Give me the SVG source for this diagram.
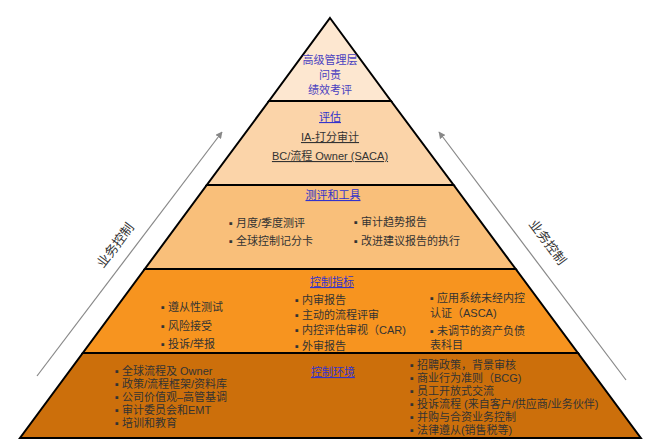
<svg xmlns="http://www.w3.org/2000/svg" width="664" height="445" viewBox="0 0 664 445">
<defs>
<marker id="ah" viewBox="0 0 10 10" refX="9" refY="5" markerWidth="7" markerHeight="7" orient="auto" markerUnits="userSpaceOnUse">
<path d="M0,0 L10,5 L0,10 z" fill="#888"/>
</marker>
<style>
.tier{stroke:#000;stroke-width:2;stroke-linejoin:miter}
.t{font-family:"Liberation Sans","Noto Sans CJK SC",sans-serif;font-size:11px;fill:#333}
.h{font-family:"Liberation Sans","Noto Sans CJK SC",sans-serif;font-size:11px;fill:#3333cc;text-decoration:underline}
.b{font-family:"Liberation Sans","Noto Sans CJK SC",sans-serif;font-size:11px;fill:#4a3fc0}
.u{text-decoration:underline}
.side{font-family:"Liberation Sans","Noto Sans CJK SC",sans-serif;font-size:13px;fill:#333}
.arr{stroke:#888;stroke-width:1.2;fill:none}
</style>
</defs>
<rect width="664" height="445" fill="#fff"/>
<g id="connectors">
<line class="arr" x1="37" y1="376" x2="222" y2="132" marker-end="url(#ah)"/>
<line class="arr" x1="626" y1="380" x2="439" y2="132" marker-end="url(#ah)"/>
</g>
<g id="label-left">
<text class="side" x="115" y="250" text-anchor="middle" transform="rotate(-53 115 245)">业务控制</text>
</g>
<g id="label-right">
<text class="side" x="548" y="247" text-anchor="middle" transform="rotate(53 548 242)">业务控制</text>
</g>
<g id="tier1">
<polygon class="tier" points="330,18 391,101 269,101" fill="#FDE7D0"/>
<text class="b" x="330" y="64" text-anchor="middle">高级管理层</text>
<text class="b" x="330" y="79" text-anchor="middle">问责</text>
<text class="b" x="330" y="94" text-anchor="middle">绩效考评</text>
</g>
<g id="tier2">
<polygon class="tier" points="269,101 391,101 453.6,185 206.8,185" fill="#FBD4A9"/>
<text class="h" x="330" y="121" text-anchor="middle">评估</text>
<text class="t u" x="330" y="141" text-anchor="middle">IA-打分审计</text>
<text class="t u" x="330" y="160" text-anchor="middle">BC/流程 Owner (SACA)</text>
</g>
<g id="tier3">
<polygon class="tier" points="206.8,185 453.6,185 515.7,269 144.8,269" fill="#F9BF7A"/>
<text class="h" x="333" y="199" text-anchor="middle">测评和工具</text>
<text class="t" x="229" y="227">▪ 月度/季度测评</text>
<text class="t" x="229" y="245">▪ 全球控制记分卡</text>
<text class="t" x="354" y="226">▪ 审计趋势报告</text>
<text class="t" x="354" y="245">▪ 改进建议报告的执行</text>
</g>
<g id="tier4">
<polygon class="tier" points="144.8,269 515.7,269 577.9,353 82.8,353" fill="#F7941F"/>
<text class="h" x="332" y="286" text-anchor="middle">控制指标</text>
<text class="t" x="161" y="311">▪ 遵从性测试</text>
<text class="t" x="161" y="330">▪ 风险接受</text>
<text class="t" x="161" y="348">▪ 投诉/举报</text>
<text class="t" x="295" y="304">▪ 内审报告</text>
<text class="t" x="295" y="319">▪ 主动的流程评审</text>
<text class="t" x="295" y="334">▪ 内控评估审视（CAR)</text>
<text class="t" x="295" y="350">▪ 外审报告</text>
<text class="t" x="430" y="302">▪ 应用系统未经内控</text>
<text class="t" x="430" y="317">认证（ASCA)</text>
<text class="t" x="430" y="335">▪ 未调节的资产负债</text>
<text class="t" x="430" y="349">表科目</text>
</g>
<g id="tier5">
<polygon class="tier" points="82.8,353 577.9,353 640.8,438 20,438" fill="#CC6F0B"/>
<text class="h" x="333" y="376" text-anchor="middle">控制环境</text>
<text class="t" x="115" y="375">▪ 全球流程及 Owner</text>
<text class="t" x="115" y="388">▪ 政策/流程框架/资料库</text>
<text class="t" x="115" y="401">▪ 公司价值观–高管基调</text>
<text class="t" x="115" y="414">▪ 审计委员会和EMT</text>
<text class="t" x="115" y="427">▪ 培训和教育</text>
<text class="t" x="410" y="369">▪ 招聘政策，背景审核</text>
<text class="t" x="410" y="382">▪ 商业行为准则（BCG)</text>
<text class="t" x="410" y="395">▪ 员工开放式交流</text>
<text class="t" x="410" y="408">▪ 投诉流程 (来自客户/供应商/业务伙伴)</text>
<text class="t" x="410" y="421">▪ 并购与合资业务控制</text>
<text class="t" x="410" y="434">▪ 法律遵从(销售税等)</text>
</g>
</svg>
